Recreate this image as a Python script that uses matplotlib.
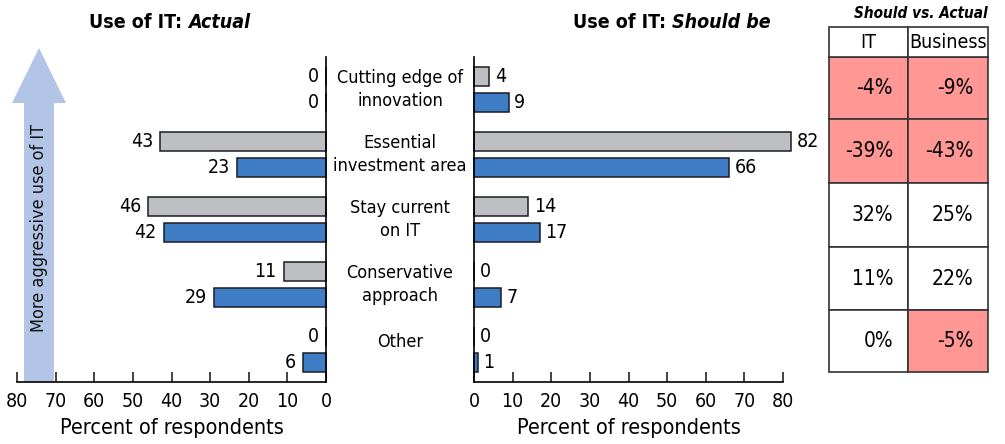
import matplotlib
matplotlib.use('Agg')
import matplotlib.pyplot as plt
from matplotlib.patches import Rectangle, Polygon

plt.rcParams['font.family'] = ['DejaVu Sans Condensed', 'DejaVu Sans']
plt.rcParams['font.stretch'] = 'condensed'

categories = ["Cutting edge of\ninnovation", "Essential\ninvestment area",
              "Stay current\non IT", "Conservative\napproach", "Other"]
actual_it = [0, 43, 46, 11, 0]      # gray
actual_bus = [0, 23, 42, 29, 6]     # blue
should_it = [4, 82, 14, 0, 0]       # gray
should_bus = [9, 66, 17, 7, 1]      # blue
diff_it = [-4, -39, 32, 11, 0]
diff_bus = [-9, -43, 25, 22, -5]
table_cols = ["IT", "Business"]
xticks = [0, 10, 20, 30, 40, 50, 60, 70, 80]

GRAY = '#BEBFC3'
BLUE = '#3E7DC6'
EDGE = '#1b1b24'
PINK = '#FF9794'
ARROW = '#B3C5E6'

W, H = 1005, 444
fig = plt.figure(figsize=(W / 100, H / 100), dpi=100)


def px(x0, y0, x1, y1):
    return [x0 / W, (H - y1) / H, (x1 - x0) / W, (y1 - y0) / H]


# overlay axes in pixel coordinates
ov = fig.add_axes([0, 0, 1, 1], zorder=0)
ov.set_xlim(0, W)
ov.set_ylim(H, 0)
ov.axis('off')

# arrow
arrow_pts = [(24, 382), (24, 103), (12, 103), (39, 48), (66, 103), (54, 103), (54, 382)]
ov.add_patch(Polygon(arrow_pts, closed=True, facecolor=ARROW, edgecolor='none'))
ov.text(39, 228, "More aggressive use of IT", rotation=90, ha='center', va='center',
        fontsize=13, color='#111111')

axL = fig.add_axes(px(17, 57, 326, 382), zorder=1)
axR = fig.add_axes(px(474, 57, 783, 382), zorder=1)

pos = list(range(len(categories)))
off = 0.2
bh = 0.29

for ax, g, b, side in [(axL, actual_it, actual_bus, 'L'), (axR, should_it, should_bus, 'R')]:
    ax.patch.set_alpha(0)
    ax.barh([p - off for p in pos], g, height=bh, color=GRAY, edgecolor=EDGE,
            linewidth=1.1, clip_on=False)
    ax.barh([p + off for p in pos], b, height=bh, color=BLUE, edgecolor=EDGE,
            linewidth=1.1, clip_on=False)
    ax.set_ylim(len(categories) - 0.5, -0.5)
    ax.set_yticks([])
    ax.set_xticks(xticks)
    ax.tick_params(axis='x', direction='in', length=7, width=1.1, labelsize=14, pad=7,
                   color='#111111')
    ax.spines['top'].set_visible(False)
    ax.spines['bottom'].set_linewidth(1.2)
    ax.set_xlabel("Percent of respondents", fontsize=15.5, labelpad=5)
    for vals, d in [(g, -off), (b, off)]:
        for p, v in zip(pos, vals):
            if side == 'L':
                ax.annotate(str(v), (v, p + d), xytext=(-5, 0), textcoords='offset points',
                            ha='right', va='center', fontsize=14, annotation_clip=False)
            else:
                ax.annotate(str(v), (v, p + d), xytext=(4, 0), textcoords='offset points',
                            ha='left', va='center', fontsize=14, annotation_clip=False)

axL.set_xlim(80, 0)
axL.spines['left'].set_visible(False)
axL.spines['right'].set_linewidth(1.2)
axR.set_xlim(0, 80)
axR.spines['right'].set_visible(False)
axR.spines['left'].set_linewidth(1.2)

# category labels
for p, c in zip(pos, categories):
    y = 57 + (p + 0.5) * 65
    if '\n' not in c:
        y -= 8
    ov.text(400, y, c, ha='center', va='center', fontsize=13, linespacing=1.3)

# titles
fig.canvas.draw()
r = fig.canvas.get_renderer()
for cx, t1, t2 in [(170, "Use of IT: ", "Actual"), (672, "Use of IT: ", "Should be")]:
    a = ov.text(0, 22, t1, ha='left', va='center', fontsize=14, fontweight='bold')
    b = ov.text(0, 22, t2, ha='left', va='center', fontsize=14, fontweight='bold',
                fontstyle='italic')
    w1 = a.get_window_extent(r).width
    w2 = b.get_window_extent(r).width
    x0 = cx - (w1 + w2) / 2
    a.set_x(x0)
    b.set_x(x0 + w1)

# table
tx0, tx1, tx2 = 829, 908, 988
row_edges = [27, 57, 119, 183, 247, 310, 372]
ov.text(tx2, 14, "Should vs. Actual", ha='right', va='center', fontsize=11,
        fontweight='bold', fontstyle='italic')
for i in range(len(diff_it)):
    ya, yb = row_edges[i + 1], row_edges[i + 2]
    for j, (vals, xa, xb) in enumerate([(diff_it, tx0, tx1), (diff_bus, tx1, tx2)]):
        v = vals[i]
        fc = PINK if v < 0 else 'white'
        ov.add_patch(Rectangle((xa, ya), xb - xa, yb - ya, facecolor=fc,
                               edgecolor='#333333', linewidth=1.2))
        ov.text(xb - 15, (ya + yb) / 2, f"{v}%", ha='right', va='center', fontsize=15)
for j, (xa, xb) in enumerate([(tx0, tx1), (tx1, tx2)]):
    ov.add_patch(Rectangle((xa, row_edges[0]), xb - xa, row_edges[1] - row_edges[0],
                           facecolor='white', edgecolor='#333333', linewidth=1.2))
    ov.text((xa + xb) / 2, (row_edges[0] + row_edges[1]) / 2 + 1, table_cols[j],
            ha='center', va='center', fontsize=14)

fig.savefig('out.png', dpi=100)
